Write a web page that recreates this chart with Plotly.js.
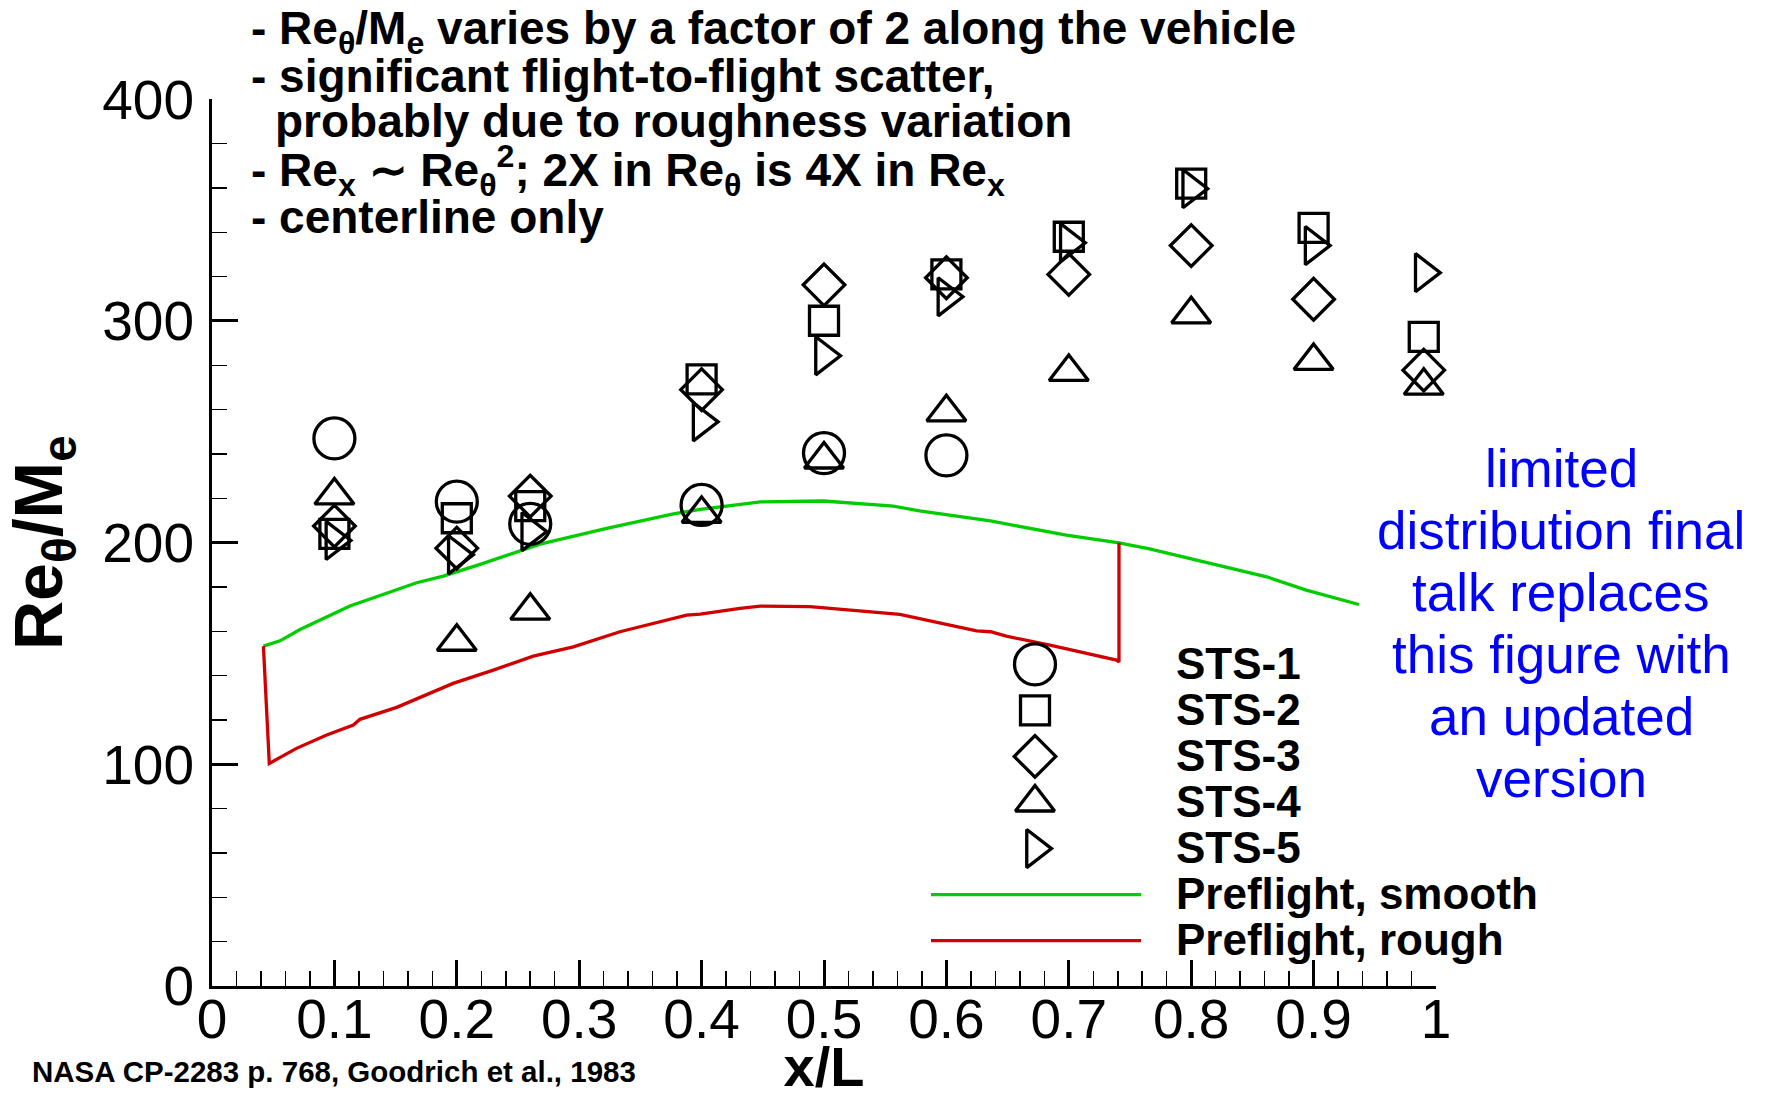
<!DOCTYPE html>
<html><head><meta charset="utf-8">
<script src="https://cdn.plot.ly/plotly-3.0.1.min.js"></script>
<style>html,body{margin:0;padding:0;background:#fff}#chart{width:1767px;height:1098px}</style>
</head><body><div id="chart"></div>
<script>
// ---------------- data ----------------
const seriesNames = ['STS-1','STS-2','STS-3','STS-4','STS-5'];
const stationX = [0.1,0.2,0.26,0.4,0.5,0.6,0.7,0.8,0.9,0.99];
const sts1X = [0.1,0.2,0.26,0.4,0.5,0.6];
const sts1Y = [247,218.5,208.5,217,240.4,239.4];
const sts2Y = [204,211,216.5,273.7,300.1,321,338,362,342,292.8];
const sts3Y = [207.5,197.5,221,269,316.3,319.5,321,334,309.8,277.8];
const sts4Y = [221.3,155.3,169.3,213,237.5,258.8,277,303,282,270.8];
const sts5Y = [201,194.5,205,254.5,284.3,310.9,335.3,359.7,334,321.8];

const smoothName = 'Preflight, smooth';
const smoothX = [0.042,0.0556,0.0719,0.1127,0.1672,0.189,0.2197,0.268,0.3225,0.377,0.399,0.4314,0.448,0.4995,0.5567,0.578,0.636,0.698,0.7255,0.741,0.766,0.815,0.8617,0.894,0.937];
const smoothY = [153.3,155.7,160.8,171.4,181.9,184.9,190.3,199.3,206.4,213.0,215.0,217.4,218.4,218.8,216.5,214.3,209.8,203.4,201.4,199.9,197.2,190.9,184.6,178.6,172.1];

const roughName = 'Preflight, rough';
const roughX = [0.042,0.0468,0.069,0.0937,0.1155,0.1209,0.1509,0.197,0.2298,0.2625,0.2952,0.3333,0.3878,0.399,0.4314,0.448,0.4886,0.562,0.6247,0.636,0.649,0.6846,0.739,0.741,0.741];
const roughY = [153.3,100.4,107.2,113.2,117.7,120.3,125.7,136.5,142.5,148.8,153,159.8,167.3,167.8,170.3,171.4,171.1,167.6,160.2,159.8,157.8,153.8,147,146.2,199.9];

const xTickVals = [0,0.1,0.2,0.3,0.4,0.5,0.6,0.7,0.8,0.9,1];
const xTickText = ['0','0.1','0.2','0.3','0.4','0.5','0.6','0.7','0.8','0.9','1'];
const yTickVals = [0,100,200,300,400];
const yTickText = ['0','100','200','300','400'];

const noteLines = [
  '- Re<sub>θ</sub>/M<sub>e</sub> varies by a factor of 2 along the vehicle',
  '- significant flight-to-flight scatter,',
  'probably due to roughness variation',
  '- Re<sub>x</sub> ∼ Re<sub>θ</sub><sup>2</sup>; 2X in Re<sub>θ</sub> is 4X in Re<sub>x</sub>',
  '- centerline only'
];
const blueLines = ['limited','distribution final','talk replaces','this figure with','an updated','version'];
const sourceText = 'NASA CP-2283 p. 768, Goodrich et al., 1983';

// ---------------- styles / layout ----------------
const W = 1767, H = 1098;
const FONT = 'Liberation Sans, Arial, Helvetica, sans-serif';
const px = v => v / W;
const py = v => 1 - v / H;

const plotL = 212, plotR = 1436, plotT = 99.3, plotB = 986;

const symStyles = [
  {symbol:'circle-open', size:41},
  {symbol:'square-open', size:29},
  {symbol:'diamond-open', size:32},
  {symbol:'triangle-up-open', size:34},
  {symbol:'triangle-right-open', size:33}
];
const GREEN = '#00cc00', RED = '#d00000';
const STROKE = 3.3;

function mk(i){ return {symbol:symStyles[i].symbol, size:symStyles[i].size, color:'#000', line:{color:'#000', width:STROKE}}; }

const seriesX = [sts1X, stationX, stationX, stationX, stationX];
const seriesY = [sts1Y, sts2Y, sts3Y, sts4Y, sts5Y];

const traces = [];
traces.push({x:smoothX, y:smoothY, name:smoothName, mode:'lines', line:{color:GREEN, width:3.3}, showlegend:false});
traces.push({x:roughX, y:roughY, name:roughName, mode:'lines', line:{color:RED, width:3.3}, showlegend:false});
for (let i=0;i<5;i++){
  traces.push({x:seriesX[i], y:seriesY[i], name:seriesNames[i], mode:'markers', marker:mk(i), showlegend:false, cliponaxis:false});
}

// manual legend (pixel-coordinate overlay subplot)
const legSymX = 1035, legRow0 = 664.3, legStep = 46.07, legLineX0 = 931, legLineX1 = 1141, legTextX = 1174;
const annotations = [];
for (let i=0;i<5;i++){
  traces.push({x:[legSymX], y:[legRow0 + i*legStep], xaxis:'x2', yaxis:'y2', mode:'markers', marker:mk(i), showlegend:false, hoverinfo:'skip', name:seriesNames[i], cliponaxis:false});
  annotations.push({xref:'paper', yref:'paper', x:px(legTextX), y:py(legRow0 + i*legStep - 1), xanchor:'left', yanchor:'middle', showarrow:false, text:'<b>'+seriesNames[i]+'</b>', font:{family:FONT, size:44, color:'#000'}});
}
[[smoothName, GREEN],[roughName, RED]].forEach((s,k)=>{
  const yy = legRow0 + (5+k)*legStep;
  traces.push({x:[legLineX0, legLineX1], y:[yy, yy], xaxis:'x2', yaxis:'y2', mode:'lines', line:{color:s[1], width:3.3}, showlegend:false, hoverinfo:'skip', name:s[0]});
  annotations.push({xref:'paper', yref:'paper', x:px(legTextX), y:py(yy - 1), xanchor:'left', yanchor:'middle', showarrow:false, text:'<b>'+s[0]+'</b>', font:{family:FONT, size:44, color:'#000'}});
});

// notes at top
const NOTE_F = 46;
const noteBase = [42.5, 90.5, 136, 178.6, 232];
const noteXs = [250, 250, 274, 250, 250];
noteLines.forEach((t,i)=>{
  annotations.push({xref:'paper', yref:'paper', x:px(noteXs[i]), y:py(noteBase[i] - 0.905*NOTE_F), xanchor:'left', yanchor:'top', showarrow:false, borderpad:0, text:'<b>'+t+'</b>', font:{family:FONT, size:NOTE_F, color:'#000'}});
});
// blue note
const blueBase0 = 486.8, blueStep = 62;
blueLines.forEach((t,i)=>{
  annotations.push({xref:'paper', yref:'paper', x:px(1561), y:py(blueBase0 + i*blueStep - 18.4), xanchor:'center', yanchor:'middle', showarrow:false, text:t, font:{family:FONT, size:53, color:'#0000ff'}});
});
// source
annotations.push({xref:'paper', yref:'paper', x:px(30), y:py(1071), xanchor:'left', yanchor:'middle', showarrow:false, text:'<b>'+sourceText+'</b>', font:{family:FONT, size:29.5, color:'#000'}});

const layout = {
  width:W, height:H,
  margin:{l:0,r:0,t:0,b:0,pad:0},
  paper_bgcolor:'#fff', plot_bgcolor:'rgba(0,0,0,0)',
  showlegend:false,
  font:{family:FONT, color:'#000'},
  xaxis:{
    domain:[px(plotL), px(plotR)], range:[0,1], autorange:false, anchor:'y',
    showline:true, linecolor:'#000', linewidth:3, showgrid:false, zeroline:false,
    ticks:'inside', ticklen:26, tickwidth:3, tickcolor:'#000',
    tickmode:'array', tickvals:xTickVals, ticktext:xTickText,
    tickfont:{family:FONT, size:55, color:'#000'}, ticklabelstandoff:-17,
    minor:{dtick:0.02, ticks:'inside', ticklen:15, tickwidth:1.5, tickcolor:'#000', showgrid:false},
    title:{text:'<b>x/L</b>', font:{family:FONT, size:56, color:'#000'}, standoff:47},
    automargin:false
  },
  yaxis:{
    domain:[py(plotB), py(plotT)], range:[0,400], autorange:false, anchor:'x',
    showline:true, linecolor:'#000', linewidth:3, showgrid:false, zeroline:false,
    ticks:'inside', ticklen:26, tickwidth:3, tickcolor:'#000',
    tickmode:'array', tickvals:yTickVals, ticktext:yTickText,
    tickfont:{family:FONT, size:55, color:'#000'}, ticklabelstandoff:4,
    minor:{dtick:20, ticks:'inside', ticklen:15, tickwidth:1.5, tickcolor:'#000', showgrid:false},
    title:{text:'<b>Re<sub>θ</sub>/M<sub>e</sub></b>', font:{family:FONT, size:68, color:'#000'}, standoff:22},
    automargin:false
  },
  xaxis2:{domain:[0,1], range:[0,W], autorange:false, visible:false, anchor:'y2', fixedrange:true},
  yaxis2:{domain:[0,1], range:[H,0], autorange:false, visible:false, anchor:'x2', fixedrange:true},
  annotations:annotations
};

Plotly.newPlot('chart', traces, layout, {displayModeBar:false, staticPlot:true});
</script></body></html>
